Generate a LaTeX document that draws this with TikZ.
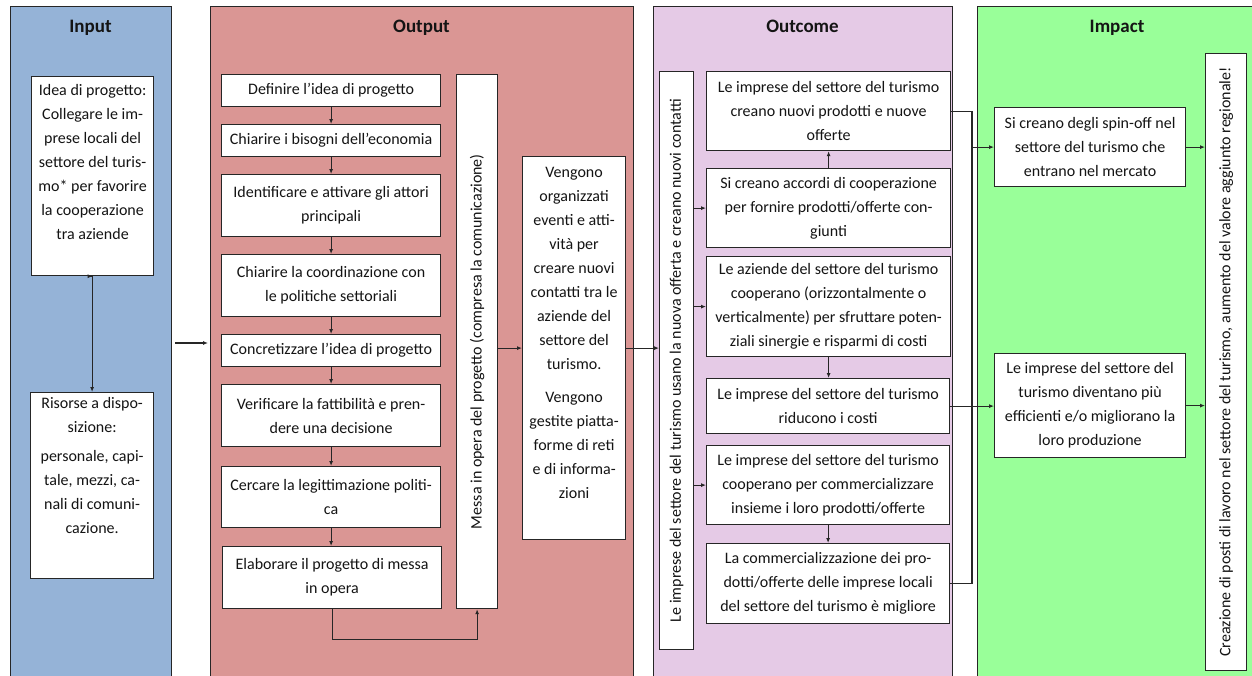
\documentclass[tikz,border=0pt]{standalone}
\usepackage{fontspec}
\setmainfont{Carlito}
\usetikzlibrary{arrows.meta,calc}
\definecolor{inblue}{RGB}{149,179,215}
\definecolor{outred}{RGB}{218,150,148}
\definecolor{ocpurple}{RGB}{229,202,230}
\definecolor{imgreen}{RGB}{153,255,153}
\definecolor{edge}{RGB}{38,38,38}
\definecolor{ink}{RGB}{20,20,20}
\begin{document}
\begin{tikzpicture}[x=1pt,y=-1pt,
  panel/.style={draw=edge,line width=1pt,anchor=north west,inner sep=0pt},
  heading/.style={font=\fontsize{19}{22}\selectfont\bfseries,text=ink,inner sep=0pt,anchor=base},
  box/.style={draw=edge,fill=white,line width=1.2pt,anchor=north west,inner sep=0pt,
    align=center,text=ink,font=\fontsize{16}{24}\selectfont},
  txt/.style={align=center,text=ink,inner sep=0pt,font=\fontsize{16}{24}\selectfont},
  conn/.style={draw=edge,line width=1.1pt},
  arr/.style={conn,-{Latex[length=5pt,width=4pt]}},
  dblarr/.style={conn,{Latex[length=5pt,width=4pt]}-{Latex[length=5pt,width=4pt]}}]
\useasboundingbox (0,0) rectangle (1252,675);
\clip (0,0) rectangle (1252,675);
\fill[white] (0,0) rectangle (1252,675);

% column panels
\node[panel,fill=inblue,minimum width=161,minimum height=700] (pIn) at (10,6) {};
\node[panel,fill=outred,minimum width=423,minimum height=700] (pOut) at (210,6) {};
\node[panel,fill=ocpurple,minimum width=299,minimum height=700] (pOc) at (653,6) {};
\node[panel,fill=imgreen,minimum width=290,minimum height=700] (pIm) at (977,6) {};

\node[heading] (hIn) at (90.5,32) {Input};
\node[heading] (hOut) at (421.5,32) {Output};
\node[heading] (hOc) at (802.5,32) {Outcome};
\node[heading] (hIm) at (1117,32) {Impact};

% Input
\node[box,minimum width=122,minimum height=199] (idea) at (31,76) {};
\node[txt,anchor=north] (ideaT) at ($(idea.north)+(0,8)$)
  {Idea di progetto:\\Collegare le im-\\prese locali del\\settore del turis-\\mo* per favorire\\la cooperazione\\tra aziende};
\node[box,minimum width=123,minimum height=186] (ris) at (30,392) {};
\node[txt,anchor=north] (risT) at ($(ris.north)+(0,5)$)
  {Risorse a dispo-\\sizione:\\[5pt]personale, capi-\\tale, mezzi, ca-\\nali di comuni-\\cazione.};
\draw[dblarr] (idea.south) -- (ris.south |- idea.south) -- (ris.north);

\coordinate (ioA) at (175,343);
\coordinate (ioB) at (208,343);
\draw[arr] (ioA) -- (ioB);

% Output
\node[box,minimum width=219,minimum height=32] (a1) at (221,74) {Definire l’idea di progetto};
\node[box,minimum width=219,minimum height=32] (a2) at (221,124) {Chiarire i bisogni dell’economia};
\node[box,minimum width=219,minimum height=62] (a3) at (221,174) {Identificare e attivare gli attori\\principali};
\node[box,minimum width=219,minimum height=62] (a4) at (221,254) {Chiarire la coordinazione con\\le politiche settoriali};
\node[box,minimum width=219,minimum height=32] (a5) at (221,334) {Concretizzare l’idea di progetto};
\node[box,minimum width=219,minimum height=62] (a6) at (221,384) {Verificare la fattibilità e pren-\\dere una decisione};
\node[box,minimum width=219,minimum height=61] (a7) at (221,466) {Cercare la legittimazione politi-\\ca};
\node[box,minimum width=219,minimum height=62] (a8) at (222,546) {Elaborare il progetto di messa\\in opera};
\foreach \u/\v in {a1/a2,a2/a3,a3/a4,a4/a5,a5/a6,a6/a7,a7/a8}
  \draw[arr] (\u.south) -- (\u.south |- \v.north);

\node[box,minimum width=41,minimum height=534] (messa) at (456,74) {};
\node[txt,rotate=90] (messaT) at (messa.center) {Messa in opera del progetto (compresa la comunicazione)};
\draw[arr] (a8.south) -- ++(0,30) -| (messa.south);

\node[box,minimum width=103,minimum height=383] (veng) at (522,156) {};
\node[txt,anchor=north] (vengT) at ($(veng.north)+(0,11)$)
  {Vengono\\organizzati\\eventi e atti-\\vità per\\creare nuovi\\contatti tra le\\aziende del\\settore del\\turismo.\\[9pt]Vengono\\gestite piatta-\\forme di reti\\e di informa-\\zioni};
\draw[arr] (messa.east |- veng.west) -- (veng.west);

% Outcome
\node[box,minimum width=34,minimum height=578] (oc0) at (659,71) {};
\node[txt,rotate=90] (oc0T) at (oc0.center) {Le imprese del settore del turismo usano la nuova offerta e creano nuovi contatti};
\draw[arr] (veng.east) -- (oc0.west |- veng.east);

\node[box,minimum width=244,minimum height=79] (oc1) at (706,71) {Le imprese del settore del turismo\\creano nuovi prodotti e nuove\\offerte};
\node[box,minimum width=244,minimum height=79] (oc2) at (706,168) {Si creano accordi di cooperazione\\per fornire prodotti/offerte con-\\giunti};
\node[box,minimum width=244,minimum height=100] (oc3) at (706,256) {Le aziende del settore del turismo\\cooperano (orizzontalmente o\\verticalmente) per sfruttare poten-\\ziali sinergie e risparmi di costi};
\node[box,minimum width=243,minimum height=55] (oc4) at (706,378) {Le imprese del settore del turismo\\riducono i costi};
\node[box,minimum width=243,minimum height=79] (oc5) at (706,445) {Le imprese del settore del turismo\\cooperano per commercializzare\\insieme i loro prodotti/offerte};
\node[box,minimum width=243,minimum height=80] (oc6) at (706,543) {La commercializzazione dei pro-\\dotti/offerte delle imprese locali\\del settore del turismo è migliore};

\foreach \v in {oc2,oc3,oc5}
  \draw[arr] (oc0.east |- \v.west) -- (\v.west);
\draw[arr] (oc2.north) -- (oc2.north |- oc1.south);
\draw[arr] (oc3.south) -- (oc3.south |- oc4.north);
\draw[arr] (oc5.south) -- (oc5.south |- oc6.north);

% Impact
\node[box,minimum width=191,minimum height=79] (im1) at (994,107) {Si creano degli spin-off nel\\settore del turismo che\\entrano nel mercato};
\node[box,minimum width=191,minimum height=104] (im2) at (994,353) {Le imprese del settore del\\turismo diventano più\\efficienti e/o migliorano la\\loro produzione};
\node[box,minimum width=41,minimum height=617] (imT) at (1205,53) {};
\node[txt,rotate=90] (imTT) at (imT.center) {Creazione di posti di lavoro nel settore del turismo, aumento del valore aggiunto regionale!};

\coordinate (jn) at (972,0);
\draw[conn] (oc1.east) -- (oc1.east -| jn) |- (oc6.east);
\draw[arr] (im1.west -| jn) -- (im1.west);
\draw[arr] (oc4.east) -- (im2.west |- oc4.east);
\draw[arr] (im1.east) -- (imT.west |- im1.east);
\draw[arr] (im2.east) -- (imT.west |- im2.east);
\end{tikzpicture}
\end{document}
